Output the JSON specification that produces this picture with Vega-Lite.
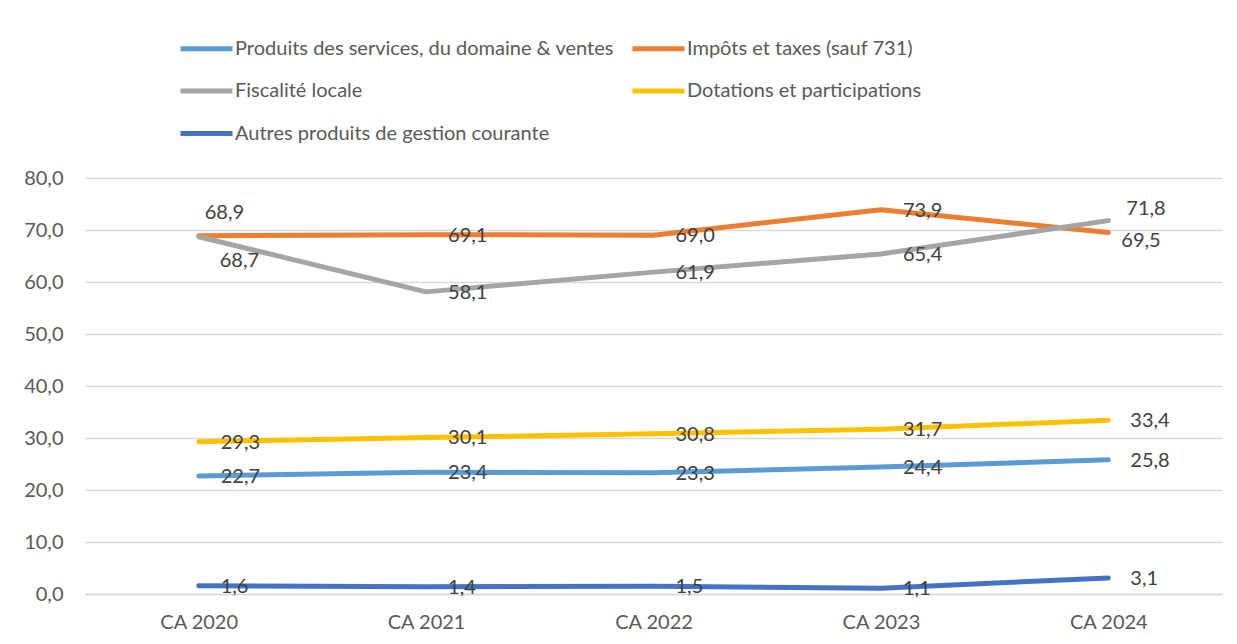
{
  "$schema": "https://vega.github.io/schema/vega-lite/v6.json",
  "width": 1137,
  "height": 416,
  "autosize": {"type": "none"},
  "padding": {"left": 85, "top": 178, "right": 15, "bottom": 50},
  "background": "white",
  "config": {
    "locale": {"number": {"decimal": ",", "thousands": " ", "grouping": [3], "currency": ["", " €"]}},
    "view": {"stroke": null},
    "font": "Lato"
  },
  "data": {
    "values": [
      {"annee": "CA 2020", "serie": "Produits des services, du domaine & ventes", "valeur": 22.7},
      {"annee": "CA 2021", "serie": "Produits des services, du domaine & ventes", "valeur": 23.4},
      {"annee": "CA 2022", "serie": "Produits des services, du domaine & ventes", "valeur": 23.3},
      {"annee": "CA 2023", "serie": "Produits des services, du domaine & ventes", "valeur": 24.4},
      {"annee": "CA 2024", "serie": "Produits des services, du domaine & ventes", "valeur": 25.8},
      {"annee": "CA 2020", "serie": "Impôts et taxes (sauf 731)", "valeur": 68.9},
      {"annee": "CA 2021", "serie": "Impôts et taxes (sauf 731)", "valeur": 69.1},
      {"annee": "CA 2022", "serie": "Impôts et taxes (sauf 731)", "valeur": 69.0},
      {"annee": "CA 2023", "serie": "Impôts et taxes (sauf 731)", "valeur": 73.9},
      {"annee": "CA 2024", "serie": "Impôts et taxes (sauf 731)", "valeur": 69.5},
      {"annee": "CA 2020", "serie": "Fiscalité locale", "valeur": 68.7},
      {"annee": "CA 2021", "serie": "Fiscalité locale", "valeur": 58.1},
      {"annee": "CA 2022", "serie": "Fiscalité locale", "valeur": 61.9},
      {"annee": "CA 2023", "serie": "Fiscalité locale", "valeur": 65.4},
      {"annee": "CA 2024", "serie": "Fiscalité locale", "valeur": 71.8},
      {"annee": "CA 2020", "serie": "Dotations et participations", "valeur": 29.3},
      {"annee": "CA 2021", "serie": "Dotations et participations", "valeur": 30.1},
      {"annee": "CA 2022", "serie": "Dotations et participations", "valeur": 30.8},
      {"annee": "CA 2023", "serie": "Dotations et participations", "valeur": 31.7},
      {"annee": "CA 2024", "serie": "Dotations et participations", "valeur": 33.4},
      {"annee": "CA 2020", "serie": "Autres produits de gestion courante", "valeur": 1.6},
      {"annee": "CA 2021", "serie": "Autres produits de gestion courante", "valeur": 1.4},
      {"annee": "CA 2022", "serie": "Autres produits de gestion courante", "valeur": 1.5},
      {"annee": "CA 2023", "serie": "Autres produits de gestion courante", "valeur": 1.1},
      {"annee": "CA 2024", "serie": "Autres produits de gestion courante", "valeur": 3.1}
    ]
  },
  "encoding": {
    "x": {
      "field": "annee", "type": "ordinal", "title": null,
      "scale": {"type": "point", "padding": 0.5},
      "axis": {
        "labelAngle": 0, "ticks": false, "domain": true, "domainColor": "#D9D9D9", "domainWidth": 1.5,
        "labelColor": "#595959", "labelFontSize": 20, "labelFont": "Lato", "labelPadding": 18, "grid": false
      }
    },
    "y": {
      "field": "valeur", "type": "quantitative", "title": null,
      "scale": {"domain": [0, 80], "nice": false, "zero": true},
      "axis": {
        "values": [0, 10, 20, 30, 40, 50, 60, 70, 80], "format": ".1f",
        "ticks": false, "domain": false, "grid": true, "gridColor": "#D9D9D9", "gridWidth": 1.5,
        "labelColor": "#595959", "labelFontSize": 20, "labelFont": "Lato", "labelPadding": 22
      }
    }
  },
  "layer": [
    {
      "mark": {"type": "line", "strokeWidth": 5, "strokeCap": "round", "strokeJoin": "round"},
      "encoding": {
        "color": {
          "field": "serie", "type": "nominal", "title": null,
          "scale": {
            "domain": ["Produits des services, du domaine & ventes", "Impôts et taxes (sauf 731)", "Fiscalité locale", "Dotations et participations", "Autres produits de gestion courante"],
            "range": ["#5B9BD5", "#ED7D31", "#A5A5A5", "#FFC000", "#4472C4"]
          },
          "legend": {
            "orient": "none", "legendX": 93, "legendY": -158, "direction": "horizontal", "columns": 2,
            "symbolType": "stroke", "symbolSize": 2704, "symbolStrokeWidth": 5,
            "labelFontSize": 20, "labelFont": "Lato", "labelColor": "#595959", "labelLimit": 600,
            "labelOffset": 0, "columnPadding": 8, "rowPadding": 3.5, "symbolOffset": 0
          }
        }
      }
    },
    {
      "transform": [{"filter": "!((datum.serie == 'Impôts et taxes (sauf 731)' || datum.serie == 'Fiscalité locale') && (datum.annee == 'CA 2020' || datum.annee == 'CA 2024'))"}],
      "mark": {"type": "text", "align": "left", "baseline": "middle", "dx": 22, "dy": 1, "fontSize": 20, "font": "Lato", "color": "#404040"},
      "encoding": {"text": {"field": "valeur", "type": "quantitative", "format": ".1f"}}
    },
    {
      "transform": [{"filter": "datum.serie == 'Impôts et taxes (sauf 731)' && datum.annee == 'CA 2020'"}],
      "mark": {"type": "text", "align": "left", "baseline": "middle", "dx": 6, "dy": -23, "fontSize": 20, "font": "Lato", "color": "#404040"},
      "encoding": {"text": {"field": "valeur", "type": "quantitative", "format": ".1f"}}
    },
    {
      "transform": [{"filter": "datum.serie == 'Fiscalité locale' && datum.annee == 'CA 2020'"}],
      "mark": {"type": "text", "align": "left", "baseline": "middle", "dx": 21, "dy": 24, "fontSize": 20, "font": "Lato", "color": "#404040"},
      "encoding": {"text": {"field": "valeur", "type": "quantitative", "format": ".1f"}}
    },
    {
      "transform": [{"filter": "datum.serie == 'Fiscalité locale' && datum.annee == 'CA 2024'"}],
      "mark": {"type": "text", "align": "left", "baseline": "middle", "dx": 18, "dy": -12, "fontSize": 20, "font": "Lato", "color": "#404040"},
      "encoding": {"text": {"field": "valeur", "type": "quantitative", "format": ".1f"}}
    },
    {
      "transform": [{"filter": "datum.serie == 'Impôts et taxes (sauf 731)' && datum.annee == 'CA 2024'"}],
      "mark": {"type": "text", "align": "left", "baseline": "middle", "dx": 13, "dy": 8, "fontSize": 20, "font": "Lato", "color": "#404040"},
      "encoding": {"text": {"field": "valeur", "type": "quantitative", "format": ".1f"}}
    }
  ]
}
